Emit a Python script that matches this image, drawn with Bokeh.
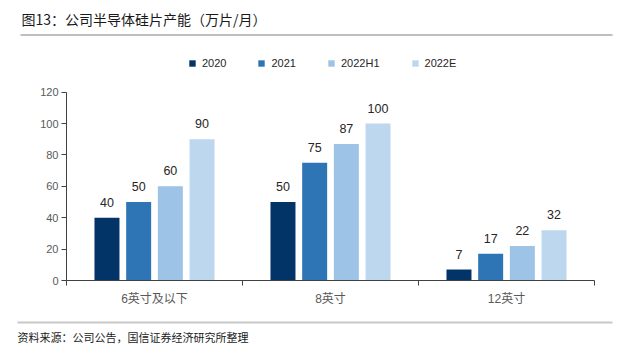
from bokeh.plotting import figure
from bokeh.models import (ColumnDataSource, FixedTicker, Label, Legend, LegendItem,
                          BoxAnnotation, Range1d)
from bokeh.embed import file_html
from bokeh.resources import INLINE
from bokeh.core.properties import value

# ---- data ----
categories = ["6英寸及以下", "8英寸", "12英寸"]
series_names = ["2020", "2021", "2022H1", "2022E"]
v2020 = [40, 50, 7]
v2021 = [50, 75, 17]
v2022h1 = [60, 87, 22]
v2022e = [90, 100, 32]
y_tick_values = [0, 20, 40, 60, 80, 100, 120]
title_text = "图13：公司半导体硅片产能（万片/月）"
source_text = "资料来源：公司公告，国信证券经济研究所整理"

series_values = [v2020, v2021, v2022h1, v2022e]
colors = ["#033468", "#2e75b6", "#9dc3e6", "#bdd7ee"]
offsets = [-0.27, -0.09, 0.09, 0.27]
bar_w = 0.142

W, H = 630, 354
# frame covers whole canvas; axis positions in pixels
AX_LEFT, AX_RIGHT, AX_TOP, AX_BOTTOM = 66, 594, 91.7, 280
YMAX = 120.0
ncat = len(categories)
px_x = (AX_RIGHT - AX_LEFT) / ncat
px_y = (AX_BOTTOM - AX_TOP) / YMAX
x_range = Range1d(-AX_LEFT / px_x, ncat + (W - AX_RIGHT) / px_x)
y_range = Range1d(-(H - AX_BOTTOM) / px_y, AX_BOTTOM / px_y)

FONT = "'Liberation Sans', 'Noto Sans CJK SC', sans-serif"
CJK = "'Noto Sans CJK SC', sans-serif"

p = figure(width=W, height=H, output_backend="svg", toolbar_location=None,
           x_range=x_range, y_range=y_range,
           min_border_left=0, min_border_right=0, min_border_top=0, min_border_bottom=0,
           tools="")
p.outline_line_color = None
p.xgrid.visible = False
p.ygrid.visible = False
p.background_fill_color = "white"
p.border_fill_color = "white"

renderers = []
for name, vals, col, off in zip(series_names, series_values, colors, offsets):
    xs = [i + 0.5 + off for i in range(ncat)]
    src = ColumnDataSource(dict(x=xs, top=vals, label=[str(v) for v in vals]))
    r = p.vbar(x="x", top="top", width=bar_w, bottom=0, source=src,
               fill_color=col, line_color=None)
    renderers.append((name, r))
    p.text(x="x", y="top", text="label", source=src, text_align="center",
           text_baseline="bottom", y_offset=-11, text_font=value("Liberation Sans"),
           text_font_size="12.5px", text_color="#262626")

# y axis
yax = p.yaxis[0]
yax.fixed_location = 0
yax.bounds = (0, YMAX)
yax.ticker = FixedTicker(ticks=y_tick_values, minor_ticks=[])
yax.axis_line_color = "#404040"
yax.major_tick_line_color = "#404040"
yax.major_tick_out = 5
yax.major_tick_in = 0
yax.minor_tick_line_color = None
yax.major_label_text_font = "Liberation Sans"
yax.major_label_text_font_size = "11px"
yax.major_label_text_color = "#595959"
yax.major_label_standoff = 3

# x axis
xax = p.xaxis[0]
xax.fixed_location = 0
xax.bounds = (0, ncat)
centers = [i + 0.5 for i in range(ncat)]
bounds = [float(i) for i in range(ncat + 1)]
xax.ticker = FixedTicker(ticks=centers, minor_ticks=bounds)
xax.major_label_overrides = {c: cat for c, cat in zip(centers, categories)}
xax.axis_line_color = "#404040"
xax.major_tick_line_color = None
xax.major_tick_out = 5
xax.minor_tick_line_color = "#404040"
xax.minor_tick_out = 5
xax.minor_tick_in = 0
xax.major_label_text_font = FONT
xax.major_label_text_font_size = "12px"
xax.major_label_text_color = "#595959"
xax.major_label_standoff = 6

# legend (location = bottom-left, y up from canvas bottom)
legend = Legend(items=[LegendItem(label=n, renderers=[r]) for n, r in renderers],
                orientation="horizontal", location=(188, H - 69),
                glyph_width=8, glyph_height=8, label_standoff=6, spacing=31,
                padding=0, margin=0, label_height=12,
                label_text_font="Liberation Sans", label_text_font_size="11px",
                label_text_color="#262626", border_line_color=None,
                background_fill_alpha=0)
p.add_layout(legend, "center")

# title and its rule
p.add_layout(Label(x=21, y=H - 18, x_units="screen", y_units="screen",
                   text=title_text, text_font=CJK, text_font_size="14px",
                   text_color="#1a1a1a", text_baseline="middle"))
p.add_layout(BoxAnnotation(left=20, right=612, bottom=H - 35, top=H - 34,
                           left_units="screen", right_units="screen",
                           bottom_units="screen", top_units="screen",
                           fill_color="#7f7f7f", fill_alpha=1, line_color=None))
# bottom rule and source
p.add_layout(BoxAnnotation(left=17, right=612, bottom=H - 323, top=H - 321,
                           left_units="screen", right_units="screen",
                           bottom_units="screen", top_units="screen",
                           fill_color="#c8c8c8", fill_alpha=1, line_color=None))
p.add_layout(Label(x=17, y=H - 336, x_units="screen", y_units="screen",
                   text=source_text, text_font=CJK, text_font_size="11px",
                   text_color="#1a1a1a", text_baseline="middle"))

open("out.html", "w").write(file_html(p, INLINE))
